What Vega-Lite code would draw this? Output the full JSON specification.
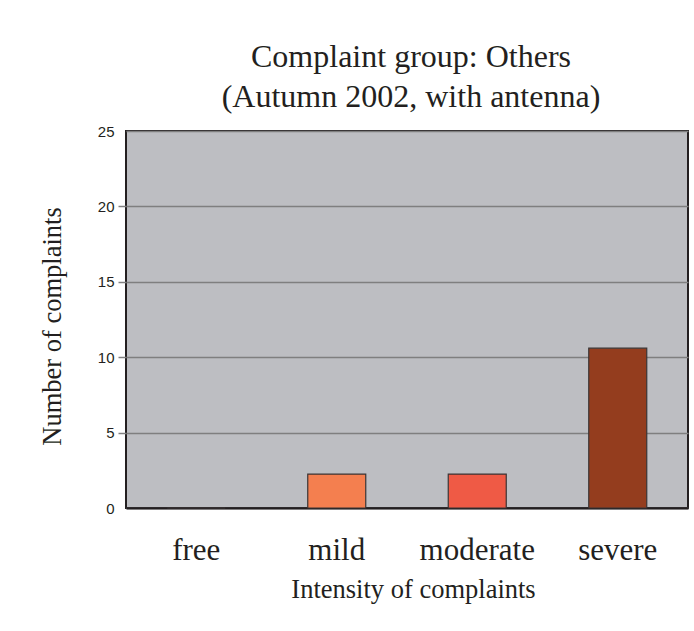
{
  "$schema": "https://vega.github.io/schema/vega-lite/v6.json",
  "autosize": {"type": "none"},
  "width": 562,
  "height": 377,
  "padding": {"left": 126, "top": 131, "right": 6, "bottom": 123},
  "background": "white",
  "title": {
    "text": ["Complaint group: Others", "(Autumn 2002, with antenna)"],
    "font": "Liberation Serif",
    "fontSize": 32,
    "fontWeight": "normal",
    "color": "#231f20",
    "lineHeight": 40,
    "anchor": "middle",
    "offset": 10,
    "dx": 4
  },
  "data": {
    "values": [
      {"intensity": "free", "count": 0},
      {"intensity": "mild", "count": 2.25},
      {"intensity": "moderate", "count": 2.25},
      {"intensity": "severe", "count": 10.6}
    ]
  },
  "mark": {"type": "bar", "size": 58, "stroke": "#3a3535", "strokeWidth": 1.2},
  "encoding": {
    "x": {
      "field": "intensity",
      "type": "nominal",
      "sort": ["free", "mild", "moderate", "severe"],
      "scale": {"paddingInner": 0, "paddingOuter": 0},
      "axis": {
        "title": "Intensity of complaints",
        "titleFont": "Liberation Serif",
        "titleFontSize": 26.5,
        "titleFontWeight": "normal",
        "titleColor": "#231f20",
        "titlePadding": 11,
        "titleX": 287,
        "labelFont": "Liberation Serif",
        "labelFontSize": 31,
        "labelColor": "#231f20",
        "labelAngle": 0,
        "labelPadding": 27,
        "ticks": false,
        "domain": true,
        "domainColor": "#231f20",
        "domainWidth": 2,
        "grid": false
      }
    },
    "y": {
      "field": "count",
      "type": "quantitative",
      "scale": {"domain": [0, 25], "nice": false},
      "axis": {
        "title": "Number of complaints",
        "titleFont": "Liberation Serif",
        "titleFontSize": 26.5,
        "titleFontWeight": "normal",
        "titleColor": "#231f20",
        "titlePadding": 31,
        "titleY": 195,
        "values": [0, 5, 10, 15, 20, 25],
        "labelFont": "Liberation Sans",
        "labelFontSize": 15,
        "labelColor": "#231f20",
        "labelPadding": 4,
        "tickSize": 8,
        "tickColor": "#808080",
        "tickWidth": 1.5,
        "tickOpacity": {"condition": {"test": "datum.value == 0 || datum.value == 25", "value": 0}, "value": 1},
        "domain": false,
        "grid": true,
        "gridColor": "#7f7f7f",
        "gridWidth": 1.5
      }
    },
    "color": {
      "field": "intensity",
      "type": "nominal",
      "scale": {
        "domain": ["free", "mild", "moderate", "severe"],
        "range": ["#cccccc", "#f47f4f", "#ef5a45", "#943d1e"]
      },
      "legend": null
    }
  },
  "config": {
    "view": {"fill": "#bdbec2", "stroke": "#231f20", "strokeWidth": 2}
  }
}
